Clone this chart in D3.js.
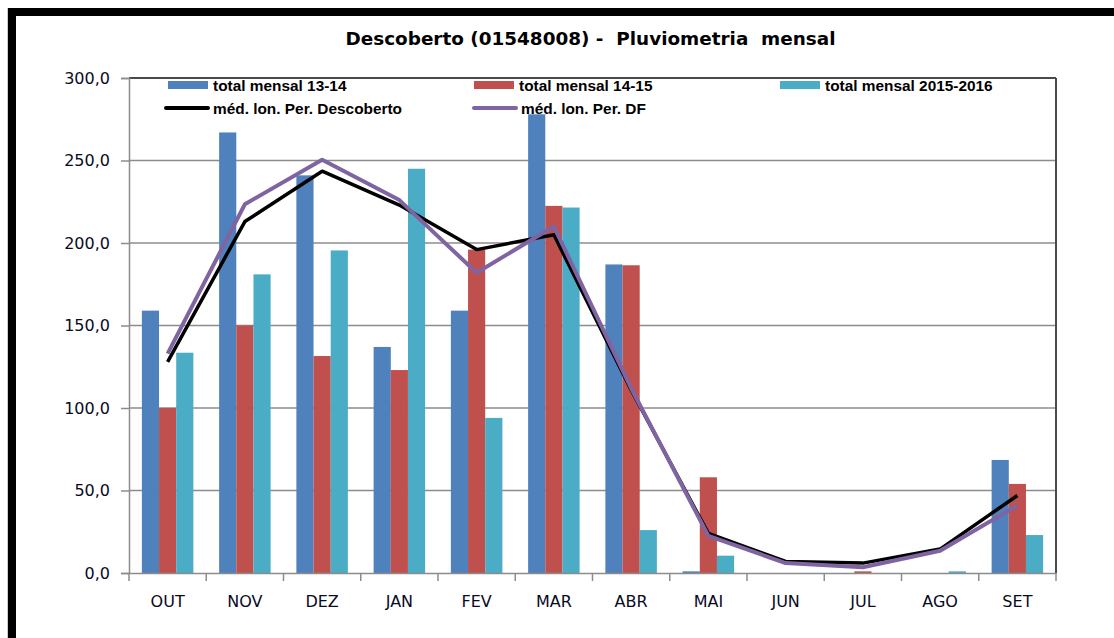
<!DOCTYPE html>
<html>
<head>
<meta charset="utf-8">
<script src="https://cdn.jsdelivr.net/npm/d3@7"></script>
<style>
  body { margin: 0; background: #fff; }
  svg { display: block; }
</style>
</head>
<body>
<svg id="chart"></svg>
<script>
var width = 1114,
    height = 638

// dados (mm)
var months = ["OUT", "NOV", "DEZ", "JAN", "FEV", "MAR", "ABR", "MAI", "JUN", "JUL", "AGO", "SET"]
var total1314 = [159, 267, 241, 137, 159, 278, 187, 1, 0, 0, 0, 68.5]
var total1415 = [100, 150, 131.5, 123, 196, 222.5, 186.5, 58, 0, 1, 0, 54]
var total1516 = [133.5, 181, 195.5, 245, 94, 221.5, 26, 10.5, 0, 0, 1, 23]
var medDescoberto = [128, 213, 243.5, 223, 196, 205, 111, 24, 7, 6, 14.5, 47]
var medDF = [133, 223.5, 250.5, 226, 182, 210, 112, 22.5, 6, 3.5, 13.5, 41]
var yTicks = [0, 50, 100, 150, 200, 250, 300]

var barSeries = [
    { name: "total mensal 13-14", values: total1314, color: "#4F81BD" },
    { name: "total mensal 14-15", values: total1415, color: "#C0504D" },
    { name: "total mensal 2015-2016", values: total1516, color: "#4BACC6" }
]
var lineSeries = [
    { name: "méd. lon. Per. Descoberto", values: medDescoberto, color: "#000000", w: 3.5 },
    { name: "méd. lon. Per. DF", values: medDF, color: "#8064A2", w: 4 }
]

var margin = { top: 78, right: 58, bottom: 65, left: 129 }
var innerW = width - margin.left - margin.right,
    innerH = height - margin.top - margin.bottom

var svg = d3.select("#chart")
    .attr("width", width)
    .attr("height", height)

// moldura preta
svg.append("line").attr("x1", 7.5).attr("x2", 7.5).attr("y1", 8).attr("y2", height)
    .attr("stroke", "#ccc").attr("stroke-width", 1)
svg.append("rect").attr("x", 8).attr("y", 8).attr("width", 8).attr("height", height - 8).attr("fill", "#000")
svg.append("rect").attr("x", 8).attr("y", 8).attr("width", width - 8).attr("height", 8).attr("fill", "#000")

var x = d3.scaleBand()
    .domain(months)
    .range([0, innerW])
    .padding(0)
var y = d3.scaleLinear()
    .domain([0, 300])
    .range([innerH, 0])

var bw = x.bandwidth() / 4.5
var sub = d3.scaleBand()
    .domain(d3.range(barSeries.length))
    .range([x.bandwidth() * 0.75 / 4.5, x.bandwidth() * 0.75 / 4.5 + bw * 3])

var g = svg.append("g")
    .attr("transform", "translate(" + margin.left + "," + margin.top + ")")

// grade
g.append("g")
    .selectAll("line")
    .data(yTicks.slice(1, -1))
    .enter().append("line")
    .attr("x1", 0)
    .attr("x2", innerW)
    .attr("y1", function (d) { return y(d) })
    .attr("y2", function (d) { return y(d) })
    .attr("stroke", "#8c8c8c")
    .attr("stroke-width", 1.5)

// borda do grafico
g.append("line").attr("x1", 0).attr("x2", innerW).attr("y1", 0).attr("y2", 0)
    .attr("stroke", "#4a4a4a").attr("stroke-width", 2)
g.append("line").attr("x1", innerW).attr("x2", innerW).attr("y1", 0).attr("y2", innerH)
    .attr("stroke", "#4a4a4a").attr("stroke-width", 2)

// eixo y
var yAxis = g.append("g")
    .call(d3.axisLeft(y)
        .tickValues(yTicks)
        .tickSize(8)
        .tickPadding(11)
        .tickFormat(function (d) { return d3.format(".1f")(d).replace(".", ",") }))
yAxis.select(".domain").attr("stroke", "#8c8c8c").attr("stroke-width", 1.5)
yAxis.selectAll(".tick line").attr("stroke", "#8c8c8c").attr("stroke-width", 1.5)
yAxis.selectAll("text")
    .attr("fill", "#0a0a1e")
    .style("font-family", "DejaVu Sans")
    .style("font-size", "16px")

// barras
barSeries.forEach(function (s, i) {
    g.append("g")
        .selectAll("rect")
        .data(s.values)
        .enter().append("rect")
        .attr("x", function (d, j) { return x(months[j]) + sub(i) })
        .attr("y", function (d) { return y(d) })
        .attr("width", bw)
        .attr("height", function (d) { return innerH - y(d) })
        .attr("fill", s.color)
})

// eixo x
var xAxis = g.append("g")
    .attr("transform", "translate(0," + innerH + ")")
    .call(d3.axisBottom(x).tickSize(0).tickPadding(23))
xAxis.select(".domain").attr("stroke", "#8c8c8c").attr("stroke-width", 1.5)
xAxis.selectAll("text")
    .attr("fill", "#0a0a1e")
    .style("font-family", "DejaVu Sans")
    .style("font-size", "16px")
xAxis.append("g")
    .selectAll("line")
    .data(d3.range(months.length + 1))
    .enter().append("line")
    .attr("x1", function (i) { return i * x.step() })
    .attr("x2", function (i) { return i * x.step() })
    .attr("y1", 0)
    .attr("y2", 8)
    .attr("stroke", "#8c8c8c")
    .attr("stroke-width", 1.5)

// linhas das medias
var line = d3.line()
    .x(function (d, j) { return x(months[j]) + x.bandwidth() / 2 })
    .y(function (d) { return y(d) })
lineSeries.forEach(function (s) {
    g.append("path")
        .datum(s.values)
        .attr("d", line)
        .attr("fill", "none")
        .attr("stroke", s.color)
        .attr("stroke-width", s.w)
        .attr("stroke-linejoin", "round")
})

// titulo
svg.append("text")
    .attr("x", margin.left + innerW / 2 - 2)
    .attr("y", 45)
    .attr("text-anchor", "middle")
    .attr("xml:space", "preserve")
    .style("font-family", "DejaVu Sans")
    .style("font-weight", "bold")
    .style("font-size", "18.4px")
    .text("Descoberto (01548008) -  Pluviometria  mensal")

// legenda
var legendItems = [
    { s: barSeries[0], type: "bar", x: 168, y: 85 },
    { s: barSeries[1], type: "bar", x: 474, y: 85 },
    { s: barSeries[2], type: "bar", x: 780, y: 85 },
    { s: lineSeries[0], type: "line", x: 166, y: 108 },
    { s: lineSeries[1], type: "line", x: 474, y: 108 }
]
var legend = svg.append("g")
    .selectAll("g")
    .data(legendItems)
    .enter().append("g")
    .attr("transform", function (d) { return "translate(" + d.x + "," + d.y + ")" })
legend.filter(function (d) { return d.type == "bar" })
    .append("rect")
    .attr("x", 0)
    .attr("y", -4)
    .attr("width", 40)
    .attr("height", 8)
    .attr("fill", function (d) { return d.s.color })
legend.filter(function (d) { return d.type == "line" })
    .append("line")
    .attr("x1", 0)
    .attr("x2", 42)
    .attr("stroke", function (d) { return d.s.color })
    .attr("stroke-width", 4)
    .attr("stroke-linecap", "round")
legend.append("text")
    .attr("x", function (d) { return d.type == "bar" ? 45 : 47 })
    .attr("y", 5.5)
    .style("font-family", "Liberation Sans")
    .style("font-weight", "bold")
    .style("font-size", "15.4px")
    .text(function (d) { return d.s.name })
</script>
</body>
</html>
